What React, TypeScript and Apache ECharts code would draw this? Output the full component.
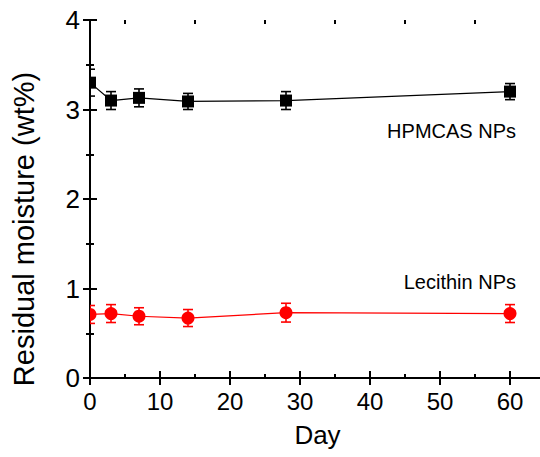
import { useEffect, useRef } from "react";
import * as echarts from "echarts";

const days = [0, 3, 7, 14, 28, 60];
const hpmcas = [3.3, 3.1, 3.13, 3.09, 3.1, 3.2];
const hpmcasErr = [0.15, 0.1, 0.1, 0.09, 0.1, 0.09];
const lecithin = [0.71, 0.72, 0.69, 0.67, 0.73, 0.72];
const lecithinErr = [0.1, 0.1, 0.095, 0.095, 0.105, 0.1];
const xTicks = [0, 10, 20, 30, 40, 50, 60];
const xMinorTicks = [5, 15, 25, 35, 45, 55];
const xMin = 0;
const xMax = 65;
const yMin = 0;
const yMax = 4;
const yInterval = 1;
const seriesNames = ["HPMCAS NPs", "Lecithin NPs"];

const FONT = '"Liberation Sans", Arial, Helvetica, sans-serif';
const BLACK = "#000000";
const RED = "#ff0000";

function errData(vals: number[], errs: number[]) {
  return days.map((d, i) => [d, vals[i], errs[i]]);
}

function makeRenderItem(color: string, shape: "square" | "circle") {
  return (params: any, api: any) => {
    const x = api.value(0);
    const y = api.value(1);
    const e = api.value(2);
    const c = api.coord([x, y]);
    const t = api.coord([x, y + e]);
    const b = api.coord([x, y - e]);
    const cap = 5;
    const ls = { stroke: color, lineWidth: 1.6 };
    const marker =
      shape === "square"
        ? { type: "rect", shape: { x: c[0] - 6, y: c[1] - 6, width: 12, height: 12 }, style: { fill: color } }
        : { type: "circle", shape: { cx: c[0], cy: c[1], r: 6.5 }, style: { fill: color } };
    return {
      type: "group",
      children: [
        { type: "line", shape: { x1: c[0], y1: t[1], x2: c[0], y2: b[1] }, style: ls },
        { type: "line", shape: { x1: c[0] - cap, y1: t[1], x2: c[0] + cap, y2: t[1] }, style: ls },
        { type: "line", shape: { x1: c[0] - cap, y1: b[1], x2: c[0] + cap, y2: b[1] }, style: ls },
        marker,
      ],
    };
  };
}

export default function App() {
  const ref = useRef<HTMLDivElement>(null);
  useEffect(() => {
    if (!ref.current) return;
    const chart = echarts.init(ref.current, undefined, { renderer: "svg" });
    const axisLine = { show: true, lineStyle: { color: BLACK, width: 2 } };
    const majorTick = { show: true, inside: true, length: 7, lineStyle: { color: BLACK, width: 2 } };
    const minorTickX = { show: true, inside: true, length: 4, lineStyle: { color: BLACK, width: 2 } };
    const baseX = { type: "value", min: xMin, max: xMax, splitLine: { show: false } };
    const option: any = {
      animation: false,
      backgroundColor: "#ffffff",
      grid: { left: 90, top: 20, width: 455, height: 358, containLabel: false, outerBoundsMode: "none" },
      xAxis: [
        {
          ...baseX,
          position: "bottom",
          axisLine,
          axisTick: { ...majorTick, customValues: xTicks },
          axisLabel: { customValues: xTicks, fontSize: 24, color: BLACK, fontFamily: FONT, margin: 11 },
          name: "Day",
          nameLocation: "middle",
          nameGap: 44,
          nameTextStyle: { fontSize: 26, color: BLACK, fontFamily: FONT },
        },
        {
          ...baseX,
          position: "top",
          axisLine,
          axisTick: { ...majorTick, customValues: xTicks },
          axisLabel: { show: false },
        },
        {
          ...baseX,
          position: "bottom",
          axisLine: { show: false },
          axisTick: { ...minorTickX, customValues: xMinorTicks },
          axisLabel: { show: false },
        },
        {
          ...baseX,
          position: "top",
          axisLine: { show: false },
          axisTick: { ...minorTickX, customValues: xMinorTicks },
          axisLabel: { show: false },
        },
      ],
      yAxis: [
        {
          type: "value",
          min: yMin,
          max: yMax,
          interval: yInterval,
          position: "left",
          axisLine,
          axisTick: majorTick,
          minorTick: { show: true, splitNumber: 2, length: 4, lineStyle: { color: BLACK, width: 2 } },
          splitLine: { show: false },
          minorSplitLine: { show: false },
          axisLabel: { fontSize: 26, color: BLACK, fontFamily: FONT, margin: 10 },
          name: "Residual moisture (wt%)",
          nameLocation: "middle",
          nameGap: 52,
          nameTextStyle: { fontSize: 29, color: BLACK, fontFamily: FONT, padding: [0, 60, 0, 0] },
        },
        {
          type: "value",
          min: yMin,
          max: yMax,
          interval: yInterval,
          position: "right",
          axisLine,
          axisTick: majorTick,
          minorTick: { show: true, splitNumber: 2, length: 4, lineStyle: { color: BLACK, width: 2 } },
          splitLine: { show: false },
          axisLabel: { show: false },
        },
      ],
      graphic: [
        {
          type: "text",
          right: 24,
          top: 121,
          style: { text: seriesNames[0], fontSize: 20, fill: BLACK, fontFamily: FONT },
        },
        {
          type: "text",
          right: 24,
          top: 272,
          style: { text: seriesNames[1], fontSize: 20, fill: BLACK, fontFamily: FONT },
        },
      ],
      series: [
        {
          type: "line",
          name: seriesNames[0],
          data: days.map((d, i) => [d, hpmcas[i]]),
          showSymbol: false,
          lineStyle: { color: BLACK, width: 1.2 },
          itemStyle: { color: BLACK },
          z: 2,
        },
        {
          type: "line",
          name: seriesNames[1],
          data: days.map((d, i) => [d, lecithin[i]]),
          showSymbol: false,
          lineStyle: { color: RED, width: 1.2 },
          itemStyle: { color: RED },
          z: 2,
        },
        {
          type: "custom",
          name: seriesNames[0] + " err",
          data: errData(hpmcas, hpmcasErr),
          renderItem: makeRenderItem(BLACK, "square"),
          clip: true,
          encode: { x: 0, y: 1 },
          z: 3,
        },
        {
          type: "custom",
          name: seriesNames[1] + " err",
          data: errData(lecithin, lecithinErr),
          renderItem: makeRenderItem(RED, "circle"),
          clip: true,
          encode: { x: 0, y: 1 },
          z: 3,
        },
      ],
    };
    chart.setOption(option);
    return () => chart.dispose();
  }, []);
  return (
    <div
      ref={ref}
      style={{ position: "fixed", left: 0, top: 0, width: 540, height: 457, background: "#fff" }}
    />
  );
}
